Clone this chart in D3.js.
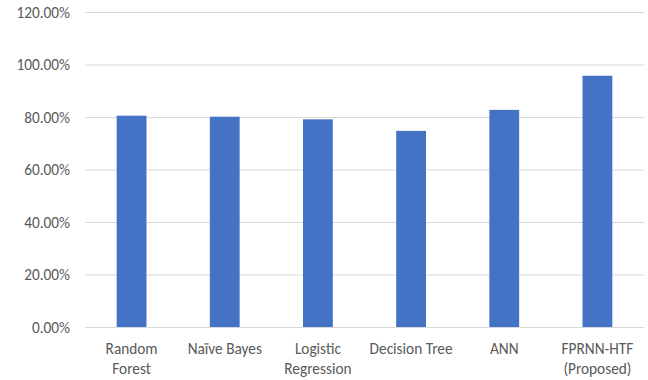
<!DOCTYPE html>
<html>
<head>
<meta charset="utf-8">
<script src="https://cdn.jsdelivr.net/npm/d3@7"></script>
<style>
  html, body { margin: 0; padding: 0; background: #fff; }
  svg text { font-family: Calibri, Carlito, Lato, "Noto Sans", sans-serif; fill: #595959; }
</style>
</head>
<body>
<svg id="chart" width="648" height="380"></svg>
<script>
// Accuracy per model
const models = ["Random Forest", "Naïve Bayes", "Logistic Regression", "Decision Tree", "ANN", "FPRNN-HTF (Proposed)"];
const modelLines = [["Random", "Forest"], ["Naïve Bayes"], ["Logistic", "Regression"], ["Decision Tree"], ["ANN"], ["FPRNN-HTF", "(Proposed)"]];
const accuracy = [0.807, 0.803, 0.793, 0.749, 0.829, 0.959];
const yTicks = [0, 0.2, 0.4, 0.6, 0.8, 1.0, 1.2];

const svg = d3.select("#chart");
const plotLeft = 85, plotRight = 644, plotTop = 12.5, plotBottom = 327.5;
const fontSize = 15.3;

const x = d3.scaleBand().domain(models).range([plotLeft, plotRight]).paddingInner(0.68).paddingOuter(0.34);
const y = d3.scaleLinear().domain([0, 1.2]).range([plotBottom, plotTop]);

// horizontal gridlines
svg.append("g")
  .selectAll("line")
  .data(yTicks.filter(d => d > 0))
  .join("line")
  .attr("x1", plotLeft).attr("x2", plotRight)
  .attr("y1", d => y(d)).attr("y2", d => y(d))
  .attr("stroke", "#d9d9d9").attr("stroke-width", 1);

// y tick labels
svg.append("g")
  .selectAll("text")
  .data(yTicks)
  .join("text")
  .attr("x", 70)
  .attr("y", d => y(d))
  .attr("dy", "0.35em")
  .attr("text-anchor", "end")
  .attr("font-size", fontSize)
  .text(d => d3.format(".2%")(d));

// bars
svg.append("g")
  .selectAll("rect")
  .data(models)
  .join("rect")
  .attr("x", d => x(d))
  .attr("width", x.bandwidth())
  .attr("y", (d, i) => y(accuracy[i]))
  .attr("height", (d, i) => y(0) - y(accuracy[i]))
  .attr("fill", "#4472c4");

// baseline
svg.append("line")
  .attr("x1", plotLeft).attr("x2", plotRight)
  .attr("y1", y(0)).attr("y2", y(0))
  .attr("stroke", "#d9d9d9").attr("stroke-width", 1);

// category labels, wrapped onto two lines where needed
const cat = svg.append("g")
  .selectAll("text")
  .data(models)
  .join("text")
  .attr("text-anchor", "middle")
  .attr("font-size", fontSize)
  .attr("y", 349);
cat.each(function(d, i) {
  const t = d3.select(this);
  modelLines[i].forEach((line, j) => {
    t.append("tspan")
      .attr("x", x(d) + x.bandwidth() / 2)
      .attr("dy", j === 0 ? "0.35em" : 20)
      .text(line);
  });
});
</script>
</body>
</html>
